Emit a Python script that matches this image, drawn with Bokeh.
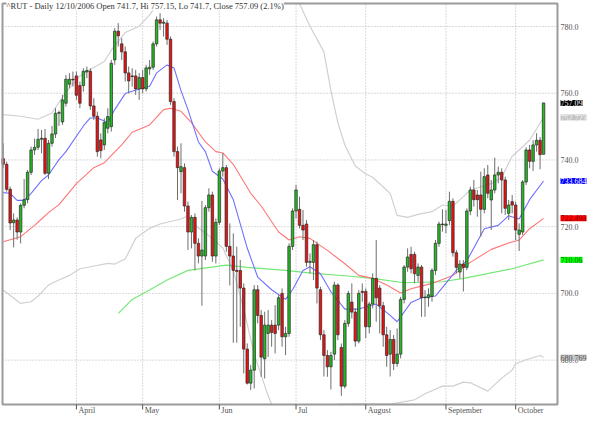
from bokeh.plotting import figure
from bokeh.models import Range1d, ColumnDataSource
from bokeh.embed import file_html
from bokeh.resources import INLINE
from bokeh.core.properties import value

# ---------------- data ----------------
opens = [740.4, 738.7, 731.2, 721.2, 722.0, 718.4, 726.4, 728.1, 736.3, 743.0,
         743.8, 746.2, 746.5, 736.0, 745.0, 747.8, 754.0, 751.4, 757.0, 762.7,
         764.2, 765.2, 762.3, 762.3, 766.4, 766.6, 756.2, 753.1, 746.0, 744.5,
         749.5, 750.0, 770.0, 778.6, 774.8, 772.4, 766.1, 765.2, 765.2, 761.3,
         764.7, 761.3, 767.3, 767.8, 774.8, 782.0, 781.0, 781.0, 776.2, 757.5,
         742.5, 736.5, 737.7, 726.2, 718.4, 722.8, 715.0, 711.2, 711.2, 725.7,
         729.5, 711.2, 721.3, 736.7, 737.7, 714.1, 711.2, 706.9, 706.9, 701.6,
         683.3, 673.1, 677.0, 701.1, 693.4, 680.4, 688.0, 690.5, 690.5, 690.5,
         700.0, 687.0, 688.0, 714.1, 724.7, 725.2, 720.4, 720.8, 709.3, 709.3,
         714.6, 701.1, 687.6, 681.4, 678.0, 681.8, 702.5, 683.8, 672.2, 691.0,
         697.4, 694.4, 685.7, 700.6, 700.6, 690.0, 696.8, 704.5, 701.6, 696.3,
         687.6, 681.8, 686.2, 679.0, 681.8, 698.2, 707.9, 711.7, 711.7, 705.4,
         707.9, 698.7, 698.7, 699.1, 706.9, 715.0, 720.8, 720.4, 721.8, 727.6,
         712.2, 706.4, 708.8, 707.8, 724.7, 731.0, 729.5, 729.5, 725.2, 735.5,
         728.0, 731.0, 735.5, 736.3, 734.0, 724.0, 727.5, 726.5, 717.7, 718.4,
         733.4, 743.0, 739.6, 744.5, 745.9, 741.7]
highs = [745.0, 739.5, 732.0, 724.0, 722.8, 727.0, 734.3, 737.0, 744.0, 746.4,
         749.3, 749.0, 749.3, 746.0, 750.2, 755.5, 754.8, 759.5, 765.5, 766.0,
         766.5, 766.5, 763.5, 767.5, 768.0, 767.5, 758.5, 754.5, 748.0, 752.5,
         755.5, 770.0, 779.5, 781.0, 776.5, 774.0, 768.0, 767.5, 767.0, 766.0,
         767.0, 768.5, 770.0, 775.5, 783.0, 784.0, 782.5, 782.0, 777.0, 758.5,
         744.0, 745.0, 739.0, 727.5, 723.5, 724.0, 716.5, 727.7, 726.5, 731.5,
         730.5, 722.5, 737.5, 742.1, 738.5, 721.0, 718.0, 714.0, 710.0, 703.0,
         685.0, 678.5, 702.5, 702.5, 695.0, 694.5, 695.0, 692.0, 696.5, 699.5,
         701.5, 690.0, 715.0, 725.5, 732.5, 729.0, 725.0, 722.0, 712.0, 716.0,
         715.5, 702.0, 689.0, 683.0, 682.5, 703.5, 703.0, 685.0, 692.0, 700.8,
         703.0, 695.5, 701.0, 703.0, 701.5, 697.5, 706.0, 716.0, 702.5, 697.5,
         690.0, 689.0, 687.5, 689.5, 699.0, 708.5, 713.5, 714.0, 712.5, 709.0,
         708.5, 701.0, 701.5, 707.5, 716.0, 721.5, 725.2, 725.0, 730.5, 728.5,
         713.0, 710.0, 710.0, 725.5, 732.0, 734.0, 731.0, 736.5, 737.5, 738.5,
         734.0, 740.7, 738.0, 737.5, 735.0, 728.0, 729.5, 727.5, 721.0, 734.0,
         743.8, 744.5, 745.9, 748.0, 746.9, 757.15]
lows = [737.5, 730.5, 719.0, 713.8, 716.1, 715.0, 725.5, 727.0, 735.5, 741.5,
        743.0, 742.0, 735.5, 734.3, 744.0, 746.6, 750.2, 750.5, 756.0, 761.5,
        762.0, 758.0, 755.5, 760.5, 764.5, 755.0, 752.0, 741.0, 740.5, 743.0,
        748.0, 748.5, 768.5, 774.0, 770.0, 763.5, 760.0, 762.0, 759.5, 758.0,
        760.0, 760.5, 765.5, 767.0, 774.0, 779.0, 777.0, 774.5, 756.5, 741.0,
        728.0, 730.0, 724.5, 713.0, 713.5, 706.9, 709.0, 696.3, 710.0, 724.5,
        709.5, 709.0, 720.5, 735.0, 712.5, 702.4, 685.2, 685.2, 690.0, 676.0,
        672.7, 671.0, 671.5, 691.0, 675.0, 674.5, 681.0, 684.0, 682.0, 689.0,
        684.0, 681.5, 687.0, 713.0, 722.5, 719.5, 716.0, 708.0, 706.0, 704.0,
        697.0, 686.0, 675.1, 675.0, 671.2, 680.0, 686.0, 669.3, 671.5, 690.0,
        692.5, 684.0, 685.0, 697.5, 686.6, 688.0, 695.5, 691.5, 688.0, 684.0,
        678.0, 675.1, 677.0, 678.0, 680.5, 697.0, 706.5, 706.0, 703.0, 703.5,
        693.0, 693.0, 696.0, 697.5, 705.5, 714.0, 718.5, 718.0, 720.5, 711.0,
        706.0, 704.5, 700.6, 707.0, 723.5, 726.0, 723.0, 717.0, 724.0, 728.5,
        719.0, 730.0, 733.0, 724.0, 723.5, 722.0, 724.0, 716.0, 712.7, 717.5,
        732.5, 737.5, 736.7, 742.5, 737.2, 741.7]
closes = [738.7, 731.2, 721.1, 722.0, 718.4, 726.4, 728.1, 736.3, 743.0, 743.8,
          746.2, 746.5, 736.0, 745.0, 747.8, 754.0, 754.2, 758.0, 764.2, 764.2,
          764.0, 759.4, 757.0, 766.6, 766.8, 756.2, 753.1, 742.5, 742.8, 751.2,
          753.0, 769.0, 778.6, 777.2, 772.4, 766.1, 763.7, 765.0, 761.3, 764.7,
          761.3, 767.6, 767.8, 774.8, 782.0, 781.0, 781.3, 776.2, 757.5, 742.5,
          737.7, 738.0, 726.2, 718.4, 722.8, 715.0, 711.2, 713.0, 725.7, 729.5,
          711.2, 721.3, 736.7, 737.7, 714.1, 711.2, 706.9, 706.6, 701.6, 683.3,
          673.1, 677.0, 701.1, 693.4, 680.9, 690.5, 690.5, 688.3, 688.0, 698.7,
          687.0, 688.0, 714.1, 724.7, 731.0, 720.4, 719.0, 709.3, 709.6, 714.6,
          701.6, 687.6, 681.4, 678.0, 681.4, 702.5, 687.6, 672.2, 691.0, 700.0,
          694.4, 685.7, 700.0, 700.3, 690.0, 696.8, 704.5, 698.7, 696.3, 687.6,
          681.4, 686.2, 679.0, 681.8, 698.2, 707.9, 710.9, 707.4, 705.9, 707.9,
          698.7, 698.9, 699.6, 706.9, 715.0, 720.8, 720.6, 720.8, 727.6, 712.2,
          707.8, 708.8, 707.8, 724.7, 731.0, 728.1, 728.1, 725.2, 735.0, 730.0,
          731.0, 735.5, 736.3, 734.0, 725.5, 726.5, 726.5, 719.0, 719.0, 733.4,
          743.0, 739.6, 744.5, 745.9, 741.6, 757.09]

# moving averages / bands, read at selected bars (NaN = outside the chart)
ma_fast_idx = [0, 2, 4, 6, 8, 11, 13, 16, 18, 23, 25, 27, 30, 32, 35, 39, 42, 44, 47, 49,
               51, 53, 56, 58, 60, 63, 66, 70, 73, 77, 81, 83, 86, 88, 91, 94, 98, 102,
               107, 111, 113, 117, 120, 124, 130, 133, 138, 142, 145, 148, 151, 155]
ma_fast = [730.2, 730.0, 727.9, 727.9, 730.0, 733.8, 735.5, 740.1, 742.5, 750.2, 752.6,
           752.6, 751.2, 755.1, 759.9, 761.3, 762.1, 766.1, 768.5, 767.6, 760.8, 755.1,
           745.4, 742.5, 736.6, 734.3, 728.1, 713.6, 704.9, 701.1, 698.2, 701.1, 706.9,
           708.0, 705.9, 700.5, 695.3, 695.3, 696.8, 693.4, 691.5, 697.3, 698.7, 699.2,
           706.9, 709.8, 719.4, 720.4, 723.3, 722.3, 728.1, 733.684]
ma_mid_idx = [0, 5, 9, 11, 13, 16, 21, 26, 29, 34, 37, 42, 46, 48, 51, 54, 58, 61, 63, 66,
              71, 74, 79, 82, 85, 88, 93, 98, 102, 106, 110, 114, 117, 123, 129, 134, 140,
              145, 148, 151, 155]
ma_mid = [715.5, 717.0, 720.4, 722.3, 724.2, 726.6, 732.9, 737.7, 739.2, 744.5, 748.3,
          750.5, 755.1, 755.5, 754.6, 751.2, 745.4, 742.5, 742.1, 738.7, 730.0, 726.2,
          718.4, 716.0, 717.0, 716.5, 712.9, 708.9, 705.4, 704.5, 702.5, 700.1, 701.4,
          703.0, 705.4, 709.3, 713.2, 715.1, 716.0, 719.4, 722.493]
ma_slow_idx = [33, 37, 42, 47, 53, 64, 70, 81, 89, 98, 106, 115, 126, 132, 146, 155]
ma_slow = [694.0, 698.2, 701.0, 704.0, 706.9, 708.5, 707.8, 706.9, 706.0, 705.3, 704.5,
           703.2, 703.5, 704.5, 707.4, 710.06]
band_up_idx = [0, 5, 10, 14, 18, 22, 25, 29, 31, 35, 39, 42, 44, 45, 60, 85, 88, 92,
               94, 96, 98, 101, 104, 106, 109, 111, 113, 116, 119, 123, 126, 129, 132, 134,
               140, 143, 146, 148, 151, 155]
band_up = [753.6, 753.1, 752.2, 754.1, 760.3, 765.2, 767.1, 769.5, 772.9, 778.2, 780.1,
           783.5, 786.4, 786.9, float("nan"), 786.8, 780.1, 772.4, 760.8, 751.2,
           744.5, 738.2, 735.8, 734.8, 731.9, 730.0, 723.4, 722.8, 723.7, 724.5, 726.5,
           726.2, 729.0, 731.0, 732.9, 734.8, 741.1, 743.0, 745.9, 752.723]
band_lo_idx = [0, 5, 8, 10, 13, 16, 19, 22, 25, 30, 32, 35, 38, 40, 42, 45, 51, 53, 55, 60,
               63, 66, 69, 72, 76, 77, 86, 96, 100, 104, 111, 118, 121, 126, 129, 132,
               134, 139, 143, 146, 147, 150, 154, 155]
band_lo = [701.0, 697.0, 697.5, 699.2, 702.5, 704.0, 705.4, 707.4, 708.0, 709.0, 708.8,
           710.3, 716.5, 718.0, 719.5, 720.8, 722.3, 723.3, 720.4, 716.5, 713.6, 706.9,
           695.3, 681.8, 669.3, 666.8, float("nan"), 666.8, 666.9, 666.9, 666.8,
           668.1, 669.9, 672.2, 672.2, 673.4, 673.2, 670.7, 674.6, 677.0, 678.9, 680.1,
           681.4, 680.769]

month_idx = [21, 40, 62, 84, 104, 127, 147]
month_labels = ["April", "May", "Jun", "Jul", "August", "September", "October"]
price_ticks = [680, 700, 720, 740, 760, 780]
price_tick_labels = ["680.0", "700.0", "720.0", "740.0", "760.0", "780.0"]

last_labels = ["757.09", "752.723", "733.684", "722.493", "710.06", "680.769"]
last_values = [757.09, 752.723, 733.684, 722.493, 710.06, 680.769]
last_bg = ["#000000", "#c4c4c4", "#0000ff", "#ff0000", "#00ff00", "#c4c4c4"]
last_fg = ["#ffffff", "#f4f4f4", "#ffffff", "#7a0000", "#007a00", "#555555"]

title_text = "^RUT - Daily 12/10/2006 Open 741.7, Hi 757.15, Lo 741.7, Close 757.09 (2.1%)"

# ---------------- layout (pixels) ----------------
W, H = 590, 416
CH_L, CH_R, CH_T, CH_B = 2, 557, 3, 404      # chart box inside the canvas
X0, X1 = -0.2, 159.0                          # bars shown in the chart box
Y0, Y1 = 666.7, 786.9                         # prices shown in the chart box
sx = (CH_R - CH_L) / (X1 - X0)
sy = (CH_B - CH_T) / (Y1 - Y0)
xr = Range1d(X0 - CH_L / sx, X1 + (W - CH_R) / sx)
yr = Range1d(Y0 - (H - CH_B) / sy, Y1 + CH_T / sy)
FONT = value("Liberation Serif")

p = figure(width=W, height=H, output_backend="svg", toolbar_location=None,
           x_range=xr, y_range=yr, x_axis_location=None, y_axis_location=None,
           min_border_left=0, min_border_right=0, min_border_top=0, min_border_bottom=0)
p.background_fill_color = "white"
p.border_fill_color = "white"
p.outline_line_color = None
p.grid.visible = False

# dotted grid
p.segment(x0=[X0] * len(price_ticks), y0=price_ticks, x1=[X1] * len(price_ticks),
          y1=price_ticks, line_color="#b4b4b4", line_dash="1 2", line_width=1)
p.segment(x0=month_idx, y0=[Y0] * len(month_idx), x1=month_idx, y1=[Y1] * len(month_idx),
          line_color="#b4b4b4", line_dash="1 2", line_width=1)

# bands and averages
p.line(band_up_idx, band_up, line_color="#d0d0d0", line_width=1.2)
p.line(band_lo_idx, band_lo, line_color="#d0d0d0", line_width=1.2)
p.line(ma_slow_idx, ma_slow, line_color="#74e874", line_width=1.2)
p.line(ma_mid_idx, ma_mid, line_color="#ff7676", line_width=1.1)
p.line(ma_fast_idx, ma_fast, line_color="#7070ff", line_width=1.1)

# candles
idx = list(range(len(closes)))
tops = [max(o, c) for o, c in zip(opens, closes)]
bots = [min(o, c) for o, c in zip(opens, closes)]
cols = ["#22bb22" if c >= o else "#ee1111" for o, c in zip(opens, closes)]
p.segment(x0=idx, y0=lows, x1=idx, y1=highs, line_color="#6e6e6e", line_width=1)
p.vbar(x=idx, width=0.72, top=tops, bottom=bots, fill_color=cols,
       line_color="#2a2a2a", line_width=0.7)

# chart border
p.quad(left=[X0], right=[X1], bottom=[Y0], top=[Y1], fill_color=None,
       line_color="#9a9a9a", line_width=2)

# month tick marks below the chart
tick_len = 5 / sy
p.segment(x0=month_idx, y0=[Y0] * len(month_idx), x1=month_idx,
          y1=[Y0 - tick_len] * len(month_idx), line_color="#555555", line_width=1)

# right-hand price labels
p.text(x=[X1] * len(price_ticks), y=price_ticks, text=price_tick_labels, x_offset=3,
       text_font=FONT, text_font_size="8px", text_color="#555555",
       text_baseline="middle", text_align="left")

# last-value boxes
src_last = ColumnDataSource(dict(x=[X1] * len(last_values), y=last_values,
                                 text=last_labels, bg=last_bg, fg=last_fg))
p.text(x="x", y="y", text="text", source=src_last, x_offset=3,
       text_font=FONT, text_font_size="8px", text_color="fg",
       background_fill_color="bg", background_fill_alpha=1.0,
       text_baseline="middle", text_align="left")

# month names
p.text(x=month_idx, y=[Y0 - 1 / sy] * len(month_idx), text=month_labels, x_offset=2,
       text_font=FONT, text_font_size="8px", text_color="#555555",
       text_baseline="top", text_align="left")

# title sitting on the top border
p.text(x=[X0], y=[Y1 - 2 / sy], text=[title_text], x_offset=4,
       text_font=FONT, text_font_size="8.5px", text_color="#333333",
       background_fill_color="white", background_fill_alpha=1.0,
       text_baseline="middle", text_align="left")

open("out.html", "w").write(file_html(p, INLINE))
